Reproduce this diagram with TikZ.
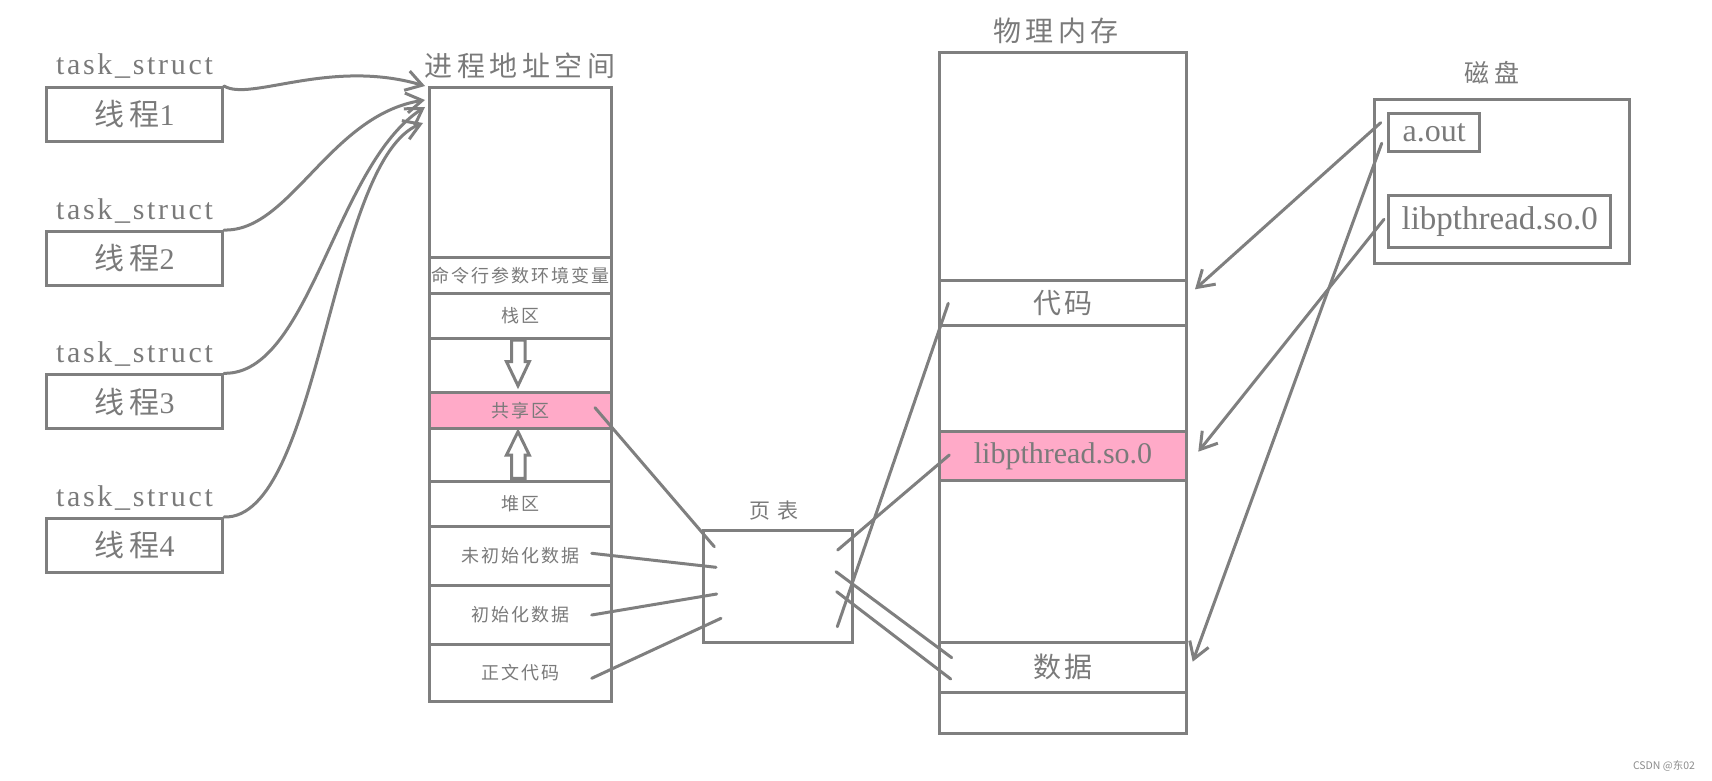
\documentclass[tikz,border=0pt]{standalone}
\usepackage{fontspec}
\setmainfont{Liberation Serif}
\newfontfamily\cjk{Noto Sans CJK SC}
\usetikzlibrary{arrows.meta,calc}
\definecolor{ln}{HTML}{7F7F7F}
\definecolor{tx}{HTML}{7A7A7A}
\definecolor{pk}{HTML}{FFAAC8}
\newcommand\cjt[3]{{\cjk\addfontfeature{LetterSpace=#1}\fontsize{#2}{#2}\selectfont #3}}
\newcommand\latt[3]{{\addfontfeature{LetterSpace=#1}\fontsize{#2}{#2}\selectfont #3}}
\begin{document}
\begin{tikzpicture}[x=1pt,y=-1pt,
  box/.style={draw=ln, line width=3pt, inner sep=0pt, anchor=north west, text=tx, fill=white},
  pinkbox/.style={box, fill=pk},
  lbl/.style={inner sep=0pt, text=tx},
  conn/.style={draw=ln, line width=3pt, line cap=round},
  arr/.style={conn, -{Straight Barb[length=16pt,width=20pt]}},
  hollow/.style={draw=ln, line width=3pt, fill=white, line join=miter}]
\useasboundingbox (0,0) rectangle (1712,781);

% threads
\foreach \i/\y in {1/86,2/230,3/373.3,4/517}{
  \node[box, minimum width=176, minimum height=53.5] (t\i) at (45,\y) {\cjt{17}{30}{线程}\latt{0}{30}{\i}};
  \node[lbl, anchor=base] (ts\i) at ($(t\i.north)+(0,-11)$) {\latt{9}{30}{task\_struct}};
}

% process address space
\node[lbl] (asT) at (520,66) {\cjt{16}{28}{进程地址空间}};
\node[box, minimum width=182, minimum height=169.7] (as0) at (428,86) {};
\node[box, minimum width=182, minimum height=36] (as1) at (428,255.7) {\cjt{11}{18}{命令行参数环境变量}};
\node[box, minimum width=182, minimum height=45] (as2) at (428,291.7) {\cjt{11}{18}{栈区}};
\node[box, minimum width=182, minimum height=54] (as3) at (428,336.7) {};
\node[pinkbox, minimum width=182, minimum height=36] (as4) at (428,390.7) {\cjt{11}{18}{共享区}};
\node[box, minimum width=182, minimum height=53.3] (as5) at (428,426.7) {};
\node[box, minimum width=182, minimum height=45] (as6) at (428,480) {\cjt{11}{18}{堆区}};
\node[box, minimum width=182, minimum height=59] (as7) at (428,525) {\cjt{11}{18}{未初始化数据}};
\node[box, minimum width=182, minimum height=58.5] (as8) at (428,584) {\cjt{11}{18}{初始化数据}};
\node[box, minimum width=182, minimum height=57.5] (as9) at (428,642.5) {\cjt{11}{18}{正文代码}};

% hollow arrows
\draw[hollow] (511.7,340) -- (525,340) -- (525,361.7) -- (529.3,361.7) -- (518,385.7) -- (506.5,361.7) -- (511.7,361.7) -- cycle;
\draw[hollow] (511.7,478.3) -- (525,478.3) -- (525,455) -- (529.3,455) -- (518,431.7) -- (506.5,455) -- (511.7,455) -- cycle;

% page table
\node[lbl] (ptT) at (774,511) {\cjt{30}{21}{页表}};
\node[box, minimum width=149, minimum height=112] (pt) at (701.7,529) {};

% physical memory
\node[lbl] (pmT) at (1056,31) {\cjt{16}{28}{物理内存}};
\node[box, minimum width=247, minimum height=227.5] (pm0) at (938,51.5) {};
\node[box, minimum width=247, minimum height=45.3] (pm1) at (938,279) {\cjt{13}{28}{代码}};
\node[box, minimum width=247, minimum height=105.7] (pm2) at (938,324.3) {};
\node[pinkbox, minimum width=247, minimum height=49.3] (pm3) at (938,430) {\latt{0}{30}{libpthread.so.0}};
\node[box, minimum width=247, minimum height=161.4] (pm4) at (938,479.3) {};
\node[box, minimum width=247, minimum height=50] (pm5) at (938,640.7) {\cjt{13}{28}{数据}};
\node[box, minimum width=247, minimum height=40.8] (pm6) at (938,690.7) {};

% disk
\node[lbl] (dkT) at (1492,73) {\cjt{20}{25}{磁盘}};
\node[box, minimum width=255, minimum height=163.4] (dk) at (1373,98.3) {};
\node[box, minimum width=91.3, minimum height=37.7] (aout) at (1387,112.3) {\latt{0}{32}{a.out}};
\node[box, minimum width=221.7, minimum height=51.7] (lib) at (1387.3,194) {\latt{0}{33}{libpthread.so.0}};

% curved arrows thread -> address space
\coordinate (c1) at (425,86);
\coordinate (c2) at (425,100);
\coordinate (c3) at (425,107);
\coordinate (c4) at (423,123);
\draw[arr] (t1.north east) .. controls (250,102) and (330,58) .. (c1);
\draw[arr] (t2.north east) .. controls (290,232) and (330,115) .. (c2);
\draw[arr] (t3.north east) .. controls (310,375) and (335,165) .. (c3);
\draw[arr] (t4.north east) .. controls (320,520) and (330,160) .. (c4);

% address space -> page table
\coordinate (l1a) at (595,407.7);   \coordinate (l1b) at (714.3,546.7);
\coordinate (l2a) at (591.7,553.3); \coordinate (l2b) at (716,567.3);
\coordinate (l3a) at (591.7,615);   \coordinate (l3b) at (716.7,594);
\coordinate (l4a) at (591.7,678.3); \coordinate (l4b) at (721,618.3);
\draw[conn] (l1a) -- (l1b);
\draw[conn] (l2a) -- (l2b);
\draw[conn] (l3a) -- (l3b);
\draw[conn] (l4a) -- (l4b);

% page table -> physical memory
\coordinate (r1a) at (837.7,550);   \coordinate (r1b) at (949.3,455);
\coordinate (r2a) at (837.3,626.7); \coordinate (r2b) at (948.3,303.3);
\coordinate (r3a) at (836,571.7);   \coordinate (r3b) at (951.7,657.7);
\coordinate (r4a) at (836.7,591.7); \coordinate (r4b) at (950.7,679);
\draw[conn] (r1a) -- (r1b);
\draw[conn] (r2a) -- (r2b);
\draw[conn] (r3a) -- (r3b);
\draw[conn] (r4a) -- (r4b);

% disk -> physical memory
\coordinate (d1a) at (1380.7,122.7); \coordinate (d1b) at (1195,289.3);
\coordinate (d2a) at (1381.7,143.3); \coordinate (d2b) at (1192.7,661.7);
\coordinate (d3a) at (1384,219.3);   \coordinate (d3b) at (1198.3,451.7);
\draw[arr] (d1a) -- (d1b);
\draw[arr] (d2a) -- (d2b);
\draw[arr] (d3a) -- (d3b);

% watermark
\node[inner sep=0pt, text=black!45] (wm) at (1664,766) {\cjk\fontsize{10.5}{12}\selectfont CSDN @东02};
\end{tikzpicture}
\end{document}
